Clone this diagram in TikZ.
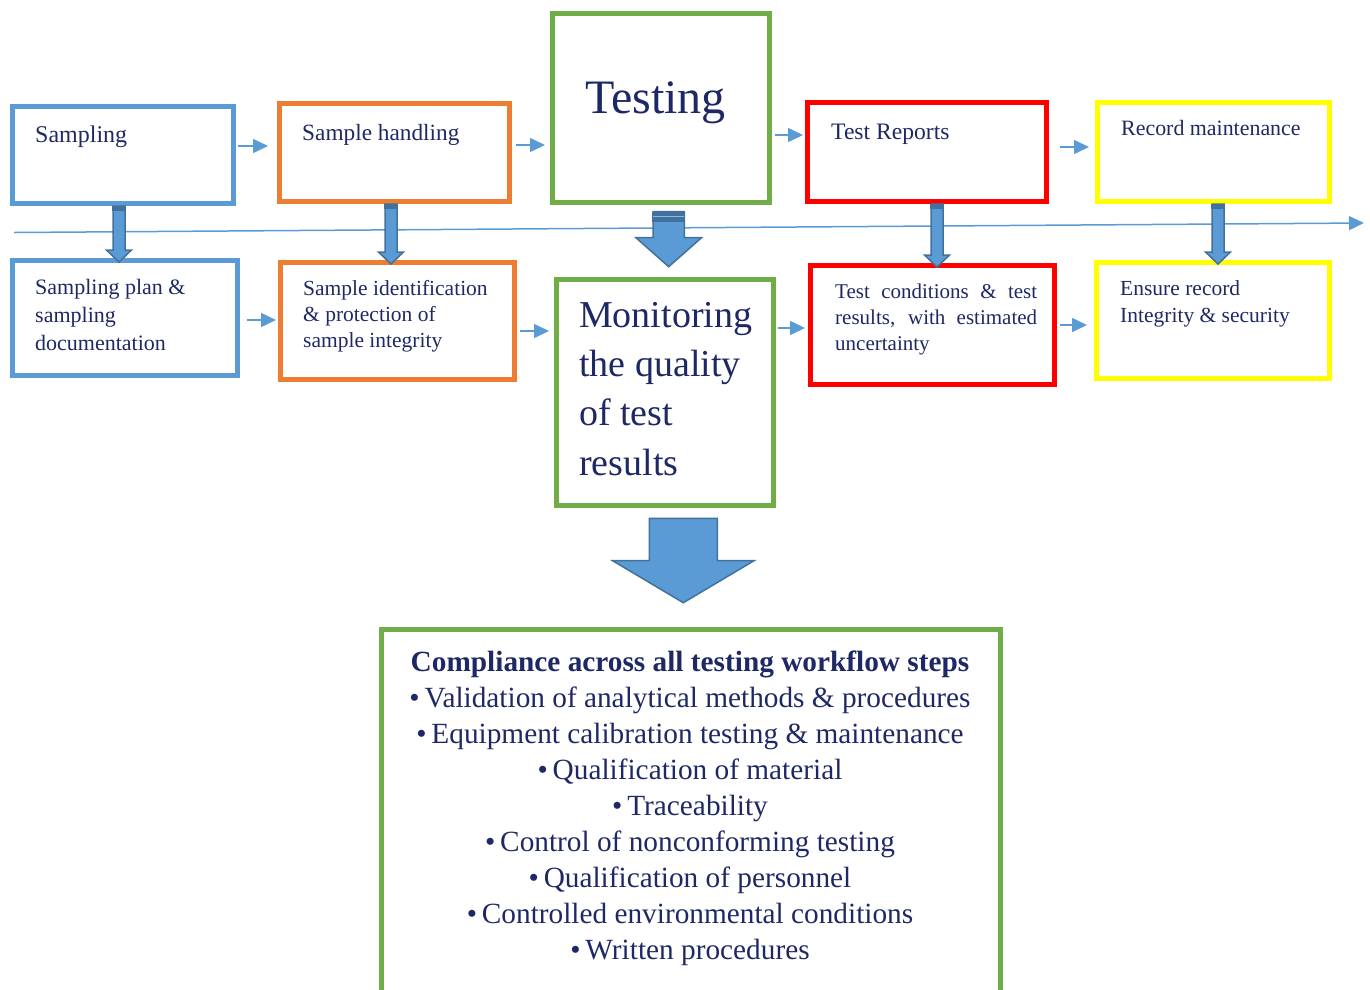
\documentclass[tikz,border=0pt]{standalone}
\usepackage{fontspec}
\setmainfont{Liberation Serif}
\usetikzlibrary{arrows.meta,calc}
\definecolor{cblue}{RGB}{91,155,213}
\definecolor{cdark}{RGB}{65,113,156}
\definecolor{corange}{RGB}{237,125,49}
\definecolor{cgreen}{RGB}{112,173,71}
\definecolor{cred}{RGB}{255,0,0}
\definecolor{cyellow}{RGB}{255,255,0}
\definecolor{ctext}{RGB}{30,40,100}
\newcommand{\thinarr}[3]{%
  \fill[cblue, draw=cdark, line width=1.5pt] let \p1=($(#1.south)+(#3,0)$), \p2=(#2.north) in
    (\x1-6pt,\y1) -- (\x1+6pt,\y1) -- (\x1+6pt,\y2+8pt) -- (\x1+12.5pt,\y2+8pt) --
    (\x1,\y2-4pt) -- (\x1-12.5pt,\y2+8pt) -- (\x1-6pt,\y2+8pt) -- cycle;
  \fill[cdark] let \p1=($(#1.south)+(#3,0)$) in
    (\x1-6.8pt,\y1) rectangle (\x1+6.8pt,\y1-5pt);
}
\begin{document}
\begin{tikzpicture}[x=1pt,y=-1pt,
  box/.style={draw=#1, line width=5pt, inner sep=0pt},
  lbl/.style={inner sep=0pt, text=ctext, anchor=base west},
  mlbl/.style={inner sep=0pt, text=ctext, anchor=north west, align=left},
  flow/.style={draw=cblue, line width=1.5pt, -{Triangle[length=15pt,width=14pt]}},
  blockarrow/.style={fill=cblue, draw=cdark, line width=1.5pt},
]
\useasboundingbox (0,0) rectangle (1370,989);
\clip (0,0) rectangle (1370,989);

% top row boxes
\node[box=cblue, minimum width=221, minimum height=97] (samp) at (123,155) {};
\node[box=corange, minimum width=230, minimum height=98] (hand) at (394.5,152.5) {};
\node[box=cgreen, minimum width=217, minimum height=189] (test) at (661,108) {};
\node[box=cred, minimum width=239, minimum height=99] (rep) at (927,152) {};
\node[box=cyellow, minimum width=232, minimum height=99] (rec) at (1213.5,152) {};

% bottom row boxes
\node[box=cblue, minimum width=225, minimum height=115] (plan) at (125,318) {};
\node[box=corange, minimum width=234, minimum height=117] (ident) at (397.5,321) {};
\node[box=cgreen, minimum width=217, minimum height=226] (mon) at (665,392.5) {};
\node[box=cred, minimum width=244, minimum height=119] (cond) at (932.5,325) {};
\node[box=cyellow, minimum width=233, minimum height=116] (ens) at (1213,320.5) {};

% compliance box
\node[box=cgreen, minimum width=619, minimum height=400] (comp) at (691,829.5) {};

% texts
\node[lbl, font=\fontsize{24}{28}\selectfont] (tsamp) at (35,142) {Sampling};
\node[lbl, font=\fontsize{23.3}{28}\selectfont] (thand) at (302,140) {Sample handling};
\node[lbl, font=\fontsize{48}{56}\selectfont] (ttest) at (585,113) {Testing};
\node[lbl, font=\fontsize{23.6}{28}\selectfont] (trep) at (831,139) {Test Reports};
\node[lbl, font=\fontsize{21.9}{26}\selectfont] (trec) at (1121,135) {Record maintenance};

\node[mlbl, font=\fontsize{22}{28}\selectfont] (tplan) at (35,279) {Sampling plan \&\\sampling\\documentation};
\node[mlbl, font=\fontsize{21.5}{26}\selectfont] (tident) at (303,280) {Sample identification\\\& protection of\\sample integrity};
\node[mlbl, font=\fontsize{38}{49.3}\selectfont] (tmon) at (579,302) {Monitoring\\the quality\\of test\\results};
\node[mlbl, font=\fontsize{21}{26}\selectfont, text width=202, align=justify] (tcond) at (835,284) {Test conditions \& test results, with estimated uncertainty};
\node[mlbl, font=\fontsize{21.5}{27}\selectfont] (tens) at (1120,280) {Ensure record\\Integrity \& security};

\node[inner sep=0pt, text=ctext, anchor=north, align=center, font=\fontsize{29.3}{35.9}\selectfont] (tcomp) at (690,651)
 {\textbf{Compliance across all testing workflow steps}\\
  \textbullet\,Validation of analytical methods \& procedures\\
  \textbullet\,Equipment calibration testing \& maintenance\\
  \textbullet\,Qualification of material\\
  \textbullet\,Traceability\\
  \textbullet\,Control of nonconforming testing\\
  \textbullet\,Qualification of personnel\\
  \textbullet\,Controlled environmental conditions\\
  \textbullet\,Written procedures};

% long timeline arrow
\coordinate (hl0) at (14,232.5);
\coordinate (hl1) at (1364,223);
\draw[flow] (hl0) -- (hl1);

% horizontal flow arrows
\draw[flow] ($(samp.east)+(2,-9)$) -- ($(hand.west)+(-9,-6.5)$);
\draw[flow] ($(hand.east)+(4,-7.5)$) -- ($(test.west)+(-5,37)$);
\draw[flow] ($(test.east)+(3,27)$) -- ($(rep.west)+(-2,-17)$);
\draw[flow] ($(rep.east)+(11,-5)$) -- ($(rec.west)+(-6,-5)$);
\draw[flow] ($(plan.east)+(7,2)$) -- ($(ident.west)+(-2,-1)$);
\draw[flow] ($(ident.east)+(3,10)$) -- ($(mon.west)+(-5,-61.5)$);
\draw[flow] ($(mon.east)+(2,-64.5)$) -- ($(cond.west)+(-3,3)$);
\draw[flow] ($(cond.east)+(3,0)$) -- ($(ens.west)+(-7,4.5)$);

% thin down arrows
\thinarr{samp}{plan}{-4}
\thinarr{hand}{ident}{-3.5}
\thinarr{rep}{cond}{10}
\thinarr{rec}{ens}{4.5}

% testing -> monitoring arrow
\path[blockarrow] let \p1=($(test.south)+(7.7,0)$), \p2=(mon.north) in
  (\x1-15.7pt,\y1-6.7pt) -- (\x1+15.7pt,\y1-6.7pt) -- (\x1+15.7pt,\y2+39.3pt) --
  (\x1+32.8pt,\y2+39.3pt) -- (\x1,\y2+10.3pt) -- (\x1-32.8pt,\y2+39.3pt) --
  (\x1-15.7pt,\y2+39.3pt) -- cycle;
\fill[cdark] let \p1=($(test.south)+(7.7,0)$) in
  (\x1-16.5pt,\y1-6.7pt) rectangle (\x1+16.5pt,\y1-16.7pt);
\draw[cblue!70!white, line width=0.8pt] let \p1=($(test.south)+(7.7,0)$) in
  (\x1-15.7pt,\y1-11.5pt) -- (\x1+15.7pt,\y1-11.5pt);

% monitoring -> compliance big arrow
\path[blockarrow] let \p1=($(mon.south)+(18.3,0)$), \p2=(comp.north) in
  (\x1-34pt,\y1-10.3pt) -- (\x1+34pt,\y1-10.3pt) -- (\x1+34pt,\y2+66.3pt) --
  (\x1+70.7pt,\y2+66.3pt) -- (\x1,\y2+24.3pt) -- (\x1-70.7pt,\y2+66.3pt) --
  (\x1-34pt,\y2+66.3pt) -- cycle;
\end{tikzpicture}
\end{document}
